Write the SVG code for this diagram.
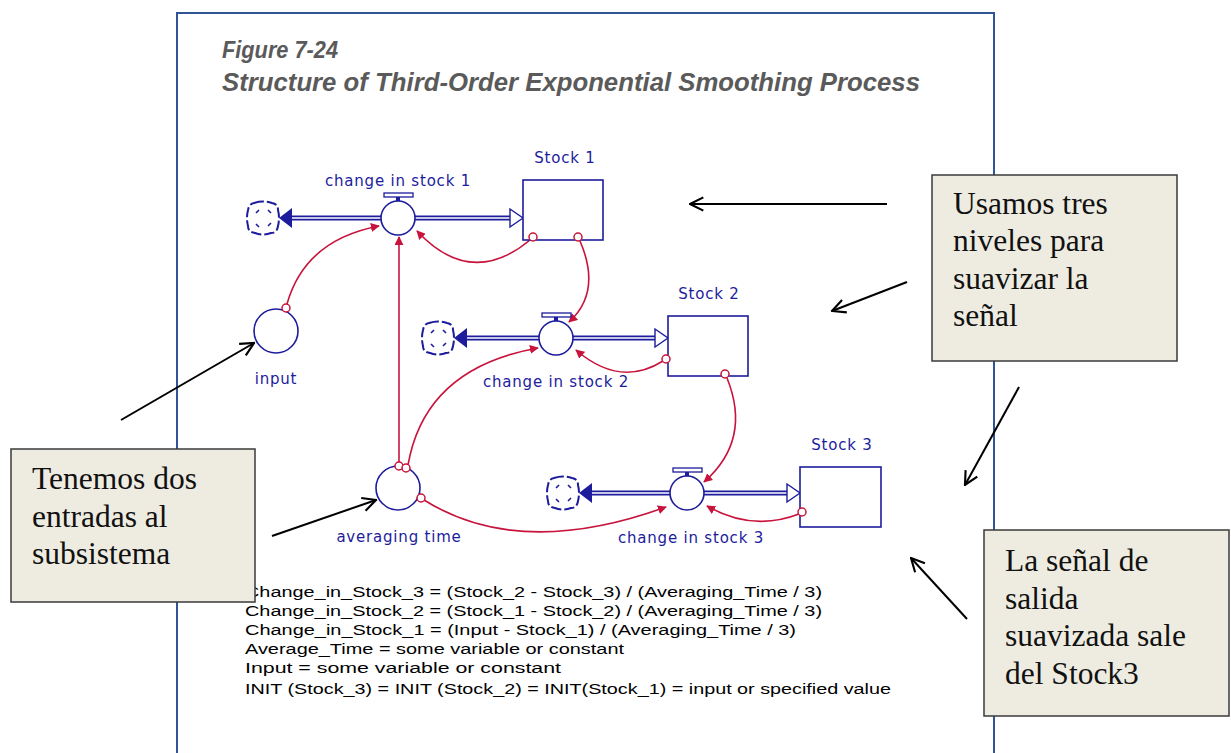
<svg xmlns="http://www.w3.org/2000/svg" width="1231" height="753" viewBox="0 0 1231 753">
<defs>
<style>
.frame{fill:#fff;stroke:#2f5597;stroke-width:2}
.title{font-family:"Liberation Sans",Arial,sans-serif;font-style:italic;font-weight:bold;fill:#5a5a5a}
.lbl{font-family:"DejaVu Sans",Verdana,sans-serif;font-size:15px;letter-spacing:0.8px;fill:#1c1c9c;text-anchor:middle}
.eq{font-family:"Liberation Sans",Arial,sans-serif;font-size:15.5px;fill:#000}
.stock{fill:#fff;stroke:#1c1c9c;stroke-width:1.6}
.aux{fill:#fff;stroke:#1c1c9c;stroke-width:1.6}
.pipeo{stroke:#1c1c9c;stroke-width:5;fill:none}
.pipei{stroke:#fff;stroke-width:1.6;fill:none}
.cloud{fill:#fff;stroke:#1c1c9c;stroke-width:2}
.tick{stroke:#1c1c9c;stroke-width:1.6;fill:none}
.conn{fill:none;stroke:#c8143c;stroke-width:1.6;marker-end:url(#ca)}
.dot{fill:#fff;stroke:#c8143c;stroke-width:1.5}
.box{fill:#eeece1;stroke:#3a3a3a;stroke-width:1.5}
.note{font-family:"Liberation Serif","Times New Roman",serif;font-size:31.5px;fill:#111}
.blk{fill:none;stroke:#000;stroke-width:2;marker-end:url(#ba)}
</style>
<marker id="ca" viewBox="0 0 10 10" refX="9" refY="5" markerWidth="9" markerHeight="9" markerUnits="userSpaceOnUse" orient="auto"><path d="M0,0 L10,5 L0,10 z" fill="#c8143c"/></marker>
<marker id="ba" viewBox="0 0 12 12" refX="11" refY="6" markerWidth="16" markerHeight="16" markerUnits="userSpaceOnUse" orient="auto"><path d="M1,1 L11,6 L1,11" fill="none" stroke="#000" stroke-width="1.6"/></marker>
<g id="cl">
<path class="cloud" d="M-9,-15 Q0,-18 9,-15 Q15,-14 15,-8 Q17,0 15,8 Q14,15 8,15 Q0,18 -8,15 Q-15,14 -15,8 Q-17,0 -15,-8 Q-14,-14 -9,-15 z" stroke-dasharray="10 3"/>
<path class="tick" d="M-7,-5 l3,-3 M5,-8 l3,3 M-7,6 l3,3 M5,8 l3,-3"/>
</g>
</defs>
<rect width="1231" height="753" fill="#fff"/>
<rect class="frame" x="177" y="13" width="817" height="760"/>
<g id="title">
<text class="title" x="222" y="58" font-size="24" textLength="116" lengthAdjust="spacingAndGlyphs">Figure 7-24</text>
<text class="title" x="222" y="91" font-size="25" textLength="698" lengthAdjust="spacingAndGlyphs">Structure of Third-Order Exponential Smoothing Process</text>
</g>
<g id="connectors">
<path class="conn" d="M287,304 Q305,240 379,226"/>
<path class="conn" d="M530,240 Q471,289 417,231"/>
<path class="conn" d="M580,241 Q602,292 569,322"/>
<path class="conn" d="M399,464 L399,237"/>
<path class="conn" d="M408,465 Q425,368 538,348"/>
<path class="conn" d="M663,361 Q620,388 576,350"/>
<path class="conn" d="M727,378 Q752,440 704,482"/>
<path class="conn" d="M424,500 Q520,560 666,507"/>
<path class="conn" d="M799,514 Q752,532 707,506"/>
</g>
<g id="flow1">
<use href="#cl" x="263" y="218"/>
<line class="pipeo" x1="290" y1="218" x2="381" y2="218"/><line class="pipei" x1="290" y1="218" x2="381" y2="218"/>
<line class="pipeo" x1="415" y1="218" x2="512" y2="218"/><line class="pipei" x1="415" y1="218" x2="513" y2="218"/>
<path d="M279,218 L292,208 L292,228 z" fill="#1c1c9c"/>
<path d="M510,209 L523,218 L510,227 z" fill="#fff" stroke="#1c1c9c" stroke-width="1.4"/>
</g>
<g id="valve1">
<circle class="aux" cx="398" cy="218" r="17"/>
<line x1="398" y1="201" x2="398" y2="197" stroke="#1c1c9c" stroke-width="4"/>
<rect x="384" y="193" width="29" height="4" fill="#fff" stroke="#1c1c9c" stroke-width="1.3"/>
<text class="lbl" x="398" y="186">change in stock 1</text>
</g>
<g id="stock1">
<rect class="stock" x="523" y="180" width="80" height="60"/>
<text class="lbl" x="565" y="163">Stock 1</text>
</g>
<g id="input">
<circle class="aux" cx="276" cy="331" r="22"/>
<text class="lbl" x="276" y="384">input</text>
</g>
<g id="flow2">
<use href="#cl" x="438" y="338"/>
<line class="pipeo" x1="465" y1="338" x2="539" y2="338"/><line class="pipei" x1="465" y1="338" x2="539" y2="338"/>
<line class="pipeo" x1="573" y1="338" x2="656" y2="338"/><line class="pipei" x1="573" y1="338" x2="657" y2="338"/>
<path d="M454,338 L467,328 L467,348 z" fill="#1c1c9c"/>
<path d="M655,329 L668,338 L655,347 z" fill="#fff" stroke="#1c1c9c" stroke-width="1.4"/>
</g>
<g id="valve2">
<circle class="aux" cx="556" cy="338" r="17"/>
<line x1="556" y1="321" x2="556" y2="317" stroke="#1c1c9c" stroke-width="4"/>
<rect x="542" y="313" width="29" height="4" fill="#fff" stroke="#1c1c9c" stroke-width="1.3"/>
<text class="lbl" x="556" y="387">change in stock 2</text>
</g>
<g id="stock2">
<rect class="stock" x="668" y="316" width="80" height="60"/>
<text class="lbl" x="709" y="299">Stock 2</text>
</g>
<g id="averaging">
<circle class="aux" cx="398" cy="488" r="22"/>
<text class="lbl" x="399" y="542">averaging time</text>
</g>
<g id="flow3">
<use href="#cl" x="563" y="493"/>
<line class="pipeo" x1="590" y1="493" x2="670" y2="493"/><line class="pipei" x1="590" y1="493" x2="670" y2="493"/>
<line class="pipeo" x1="704" y1="493" x2="788" y2="493"/><line class="pipei" x1="704" y1="493" x2="789" y2="493"/>
<path d="M579,493 L592,483 L592,503 z" fill="#1c1c9c"/>
<path d="M787,484 L800,493 L787,502 z" fill="#fff" stroke="#1c1c9c" stroke-width="1.4"/>
</g>
<g id="valve3">
<circle class="aux" cx="687" cy="493" r="17"/>
<line x1="687" y1="476" x2="687" y2="472" stroke="#1c1c9c" stroke-width="4"/>
<rect x="673" y="468" width="29" height="4" fill="#fff" stroke="#1c1c9c" stroke-width="1.3"/>
<text class="lbl" x="691" y="543">change in stock 3</text>
</g>
<g id="stock3">
<rect class="stock" x="800" y="467" width="81" height="60"/>
<text class="lbl" x="842" y="450">Stock 3</text>
</g>
<g id="dots">
<circle class="dot" cx="286" cy="308" r="4"/>
<circle class="dot" cx="533" cy="237" r="4"/>
<circle class="dot" cx="578" cy="237" r="4"/>
<circle class="dot" cx="666" cy="359" r="4"/>
<circle class="dot" cx="725" cy="374" r="4"/>
<circle class="dot" cx="399" cy="466" r="4"/>
<circle class="dot" cx="406" cy="468" r="4"/>
<circle class="dot" cx="421" cy="498" r="4"/>
<circle class="dot" cx="802" cy="512" r="4"/>
</g>
<g id="equations">
<text class="eq" x="245" y="597" textLength="577" lengthAdjust="spacingAndGlyphs">Change_in_Stock_3 = (Stock_2 - Stock_3) / (Averaging_Time / 3)</text>
<text class="eq" x="245" y="616" textLength="577" lengthAdjust="spacingAndGlyphs">Change_in_Stock_2 = (Stock_1 - Stock_2) / (Averaging_Time / 3)</text>
<text class="eq" x="245" y="635" textLength="551" lengthAdjust="spacingAndGlyphs">Change_in_Stock_1 = (Input - Stock_1) / (Averaging_Time / 3)</text>
<text class="eq" x="245" y="654" textLength="379" lengthAdjust="spacingAndGlyphs">Average_Time = some variable or constant</text>
<text class="eq" x="245" y="673" textLength="316" lengthAdjust="spacingAndGlyphs">Input = some variable or constant</text>
<text class="eq" x="245" y="694" textLength="646" lengthAdjust="spacingAndGlyphs">INIT (Stock_3) = INIT (Stock_2) = INIT(Stock_1) = input or specified value</text>
</g>
<g id="note1">
<rect class="box" x="932" y="175" width="245" height="186"/>
<text class="note" x="953" y="214">Usamos tres</text>
<text class="note" x="953" y="251">niveles para</text>
<text class="note" x="953" y="289">suavizar la</text>
<text class="note" x="953" y="326">señal</text>
</g>
<g id="note2">
<rect class="box" x="11" y="449" width="244" height="153"/>
<text class="note" x="32" y="489">Tenemos dos</text>
<text class="note" x="32" y="527">entradas al</text>
<text class="note" x="32" y="564">subsistema</text>
</g>
<g id="note3">
<rect class="box" x="984" y="530" width="245" height="186"/>
<text class="note" x="1005" y="571">La señal de</text>
<text class="note" x="1005" y="609">salida</text>
<text class="note" x="1005" y="646">suavizada sale</text>
<text class="note" x="1005" y="684">del Stock3</text>
</g>
<g id="pointers">
<line class="blk" x1="887" y1="204" x2="690" y2="204"/>
<line class="blk" x1="907" y1="282" x2="832" y2="311"/>
<line class="blk" x1="1019" y1="387" x2="965" y2="485"/>
<line class="blk" x1="967" y1="619" x2="911" y2="558"/>
<line class="blk" x1="121" y1="420" x2="254" y2="343"/>
<line class="blk" x1="272" y1="536" x2="376" y2="500"/>
</g>
</svg>
